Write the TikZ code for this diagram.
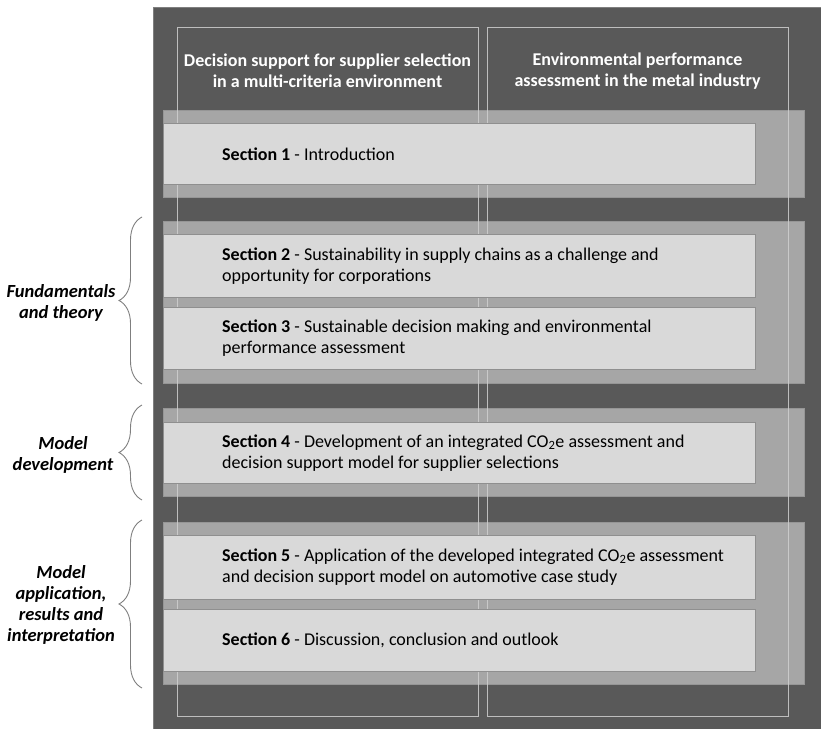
\documentclass[tikz,border=0pt]{standalone}
\usepackage{fontspec}
\setmainfont{Carlito}
\usetikzlibrary{decorations.pathreplacing,calc}
\definecolor{panelgray}{HTML}{595959}
\definecolor{panelrim}{HTML}{7F7F7F}
\definecolor{bandgray}{HTML}{A6A6A6}
\definecolor{bandrim}{HTML}{969696}
\definecolor{boxgray}{HTML}{D9D9D9}
\definecolor{boxrim}{HTML}{8F8F8F}
\definecolor{colrim}{HTML}{D0D0D0}
\definecolor{bracegray}{HTML}{7F7F7F}
\begin{document}
\begin{tikzpicture}[x=1pt,y=-1pt,
  band/.style={fill=bandgray,draw=bandrim,line width=1pt},
  secbox/.style={fill=boxgray,draw=boxrim,line width=1pt},
  column/.style={draw=colrim,line width=0.9pt,opacity=0.85},
  head/.style={text=white,font=\fontsize{18}{21}\selectfont\bfseries,align=center,inner sep=0pt},
  sectext/.style={anchor=west,align=left,inner sep=0pt,font=\fontsize{18}{21}\selectfont},
  phase/.style={align=center,inner sep=0pt,font=\fontsize{18.5}{21}\selectfont\bfseries\itshape},
  sidebrace/.style={draw=bracegray,line width=0.9pt,decorate,decoration={brace,amplitude=23pt,aspect=0.5}}
]
\useasboundingbox (0,0) rectangle (821,728);

% dark background panel
\fill[panelgray,draw=panelrim,line width=1pt] (153.5,7.5) rectangle (822,729);

% horizontal bands of the chapter groups
\draw[band] (163,110) rectangle (804,197);
\draw[band] (163,221) rectangle (804,383);
\draw[band] (163,408) rectangle (804,496);
\draw[band] (163,522) rectangle (804,684);

% the two research-field columns
\draw[column] (177,27) rectangle (478,716);
\draw[column] (487,27) rectangle (788,716);

\node[head] (h1) at (327.5,71) {Decision support for supplier selection\\in a multi-criteria environment};
\node[head] (h2) at (637.5,71) {Environmental performance\\assessment in the metal industry};

% section boxes
\draw[secbox] (163,123) rectangle (755,184);
\draw[secbox] (163,234) rectangle (755,297);
\draw[secbox] (163,307) rectangle (755,369);
\draw[secbox] (163,422) rectangle (755,483);
\draw[secbox] (163,535) rectangle (755,599);
\draw[secbox] (163,609) rectangle (755,671);

\node[sectext] (s1) at (222,154) {\textbf{Section 1} - Introduction};
\node[sectext] (s2) at (222,266) {\textbf{Section 2} - Sustainability in supply chains as a challenge and\\opportunity for corporations};
\node[sectext] (s3) at (222,338) {\textbf{Section 3} - Sustainable decision making and environmental\\performance assessment};
\node[sectext] (s4) at (222,453) {\textbf{Section 4} - Development of an integrated CO\textsubscript{2}e assessment and\\decision support model for supplier selections};
\node[sectext] (s5) at (222,567) {\textbf{Section 5} - Application of the developed integrated CO\textsubscript{2}e assessment\\and decision support model on automotive case study};
\node[sectext] (s6) at (222,640) {\textbf{Section 6} - Discussion, conclusion and outlook};

% phase braces and labels
\coordinate (b1t) at (142,217); \coordinate (b1b) at (142,384);
\coordinate (b2t) at (142,405); \coordinate (b2b) at (142,500);
\coordinate (b3t) at (142,520); \coordinate (b3b) at (142,688);
\draw[sidebrace] (b1b) -- (b1t);
\draw[sidebrace] (b2b) -- (b2t);
\draw[sidebrace] (b3b) -- (b3t);

\node[phase] (p1) at (61,303) {Fundamentals\\and theory};
\node[phase] (p2) at (63,455) {Model\\development};
\node[phase] (p3) at (61,605) {Model\\application,\\results and\\interpretation};
\end{tikzpicture}
\end{document}
